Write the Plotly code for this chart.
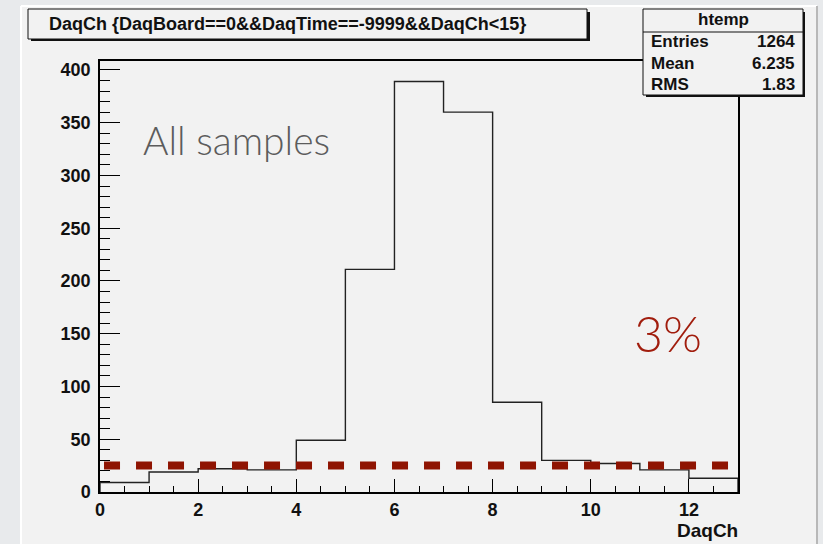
import plotly.graph_objects as go

# ---- data ----
channels = [0, 1, 2, 3, 4, 5, 6, 7, 8, 9, 10, 11, 12]
counts = [9, 19, 22, 21, 49, 211, 389, 360, 85, 30, 27, 21, 13]
threshold = 25
stats_labels = ["Entries", "Mean", "RMS"]
stats_values = ["1264", "6.235", "1.83"]
hist_name = "htemp"
title_text = "DaqCh {DaqBoard==0&&DaqTime==-9999&&DaqCh<15}"
x_title = "DaqCh"

W, H = 823, 544
def px(x):
    return x / W
def py(y):
    return 1 - y / H

edges = channels + [channels[-1] + 1]
hx = [edges[0]] + edges + [edges[-1]]
hy = [0] + counts + [counts[-1]] + [0]

fig = go.Figure()
fig.add_trace(go.Scatter(x=hx, y=hy, mode="lines", line_shape="hv",
                         line=dict(color="#222222", width=1.4),
                         hoverinfo="skip", showlegend=False))
fig.add_trace(go.Scatter(x=[0.082, 12.82], y=[threshold, threshold], mode="lines",
                         line=dict(color="#8f1402", width=8, dash="16px,16px"),
                         hoverinfo="skip", showlegend=False))

tickfont = dict(family="Liberation Sans", size=18, color="#111111", weight="bold")

fig.update_layout(
    template="none",
    width=W, height=H,
    margin=dict(l=0, r=0, t=0, b=0, pad=0),
    paper_bgcolor="#e8eaec",
    plot_bgcolor="#f2f2f2",
    showlegend=False,
    xaxis=dict(domain=[px(100), px(738)], range=[0, 13], showgrid=False, zeroline=False,
               automargin=False,
               showline=True, linecolor="black", linewidth=1.5, mirror=True,
               ticks="inside", ticklen=13, tickwidth=1.2, tickcolor="black", dtick=2, tick0=0,
               minor=dict(dtick=0.5, ticklen=6, ticks="inside", tickcolor="black", tickwidth=1.2),
               tickfont=tickfont, ticklabelstandoff=1, anchor="y"),
    yaxis=dict(domain=[py(492), py(61)], range=[0, 408.5], showgrid=False, zeroline=False,
               automargin=False,
               showline=True, linecolor="black", linewidth=1.5, mirror=True,
               ticks="inside", ticklen=20, tickwidth=1.2, tickcolor="black", dtick=50, tick0=0,
               minor=dict(dtick=10, ticklen=10, ticks="inside", tickcolor="black", tickwidth=1.2),
               tickfont=tickfont, ticklabelstandoff=4, anchor="x"),
)

shapes = []
shapes.append(dict(type="rect", xref="paper", yref="paper", x0=px(21), x1=px(817), y0=py(544), y1=py(6),
                   fillcolor="#f2f2f2", line=dict(width=0), layer="below"))
shapes.append(dict(type="line", xref="paper", yref="paper", x0=px(21), x1=px(21), y0=py(544), y1=py(6),
                   line=dict(color="#ffffff", width=2), layer="below"))
shapes.append(dict(type="line", xref="paper", yref="paper", x0=px(21), x1=px(817), y0=py(6), y1=py(6),
                   line=dict(color="#ffffff", width=2), layer="below"))
shapes.append(dict(type="line", xref="paper", yref="paper", x0=px(817), x1=px(817), y0=py(544), y1=py(6),
                   line=dict(color="#b8b8b8", width=2), layer="below"))
shapes.append(dict(type="rect", xref="paper", yref="paper", x0=px(31), x1=px(590), y0=py(41), y1=py(12),
                   fillcolor="#111111", line=dict(width=0), layer="above"))
shapes.append(dict(type="rect", xref="paper", yref="paper", x0=px(28), x1=px(587), y0=py(39), y1=py(9),
                   fillcolor="#f2f2f2", line=dict(color="#111111", width=1), layer="above"))
shapes.append(dict(type="rect", xref="paper", yref="paper", x0=px(646), x1=px(805), y0=py(97), y1=py(12),
                   fillcolor="#111111", line=dict(width=0), layer="above"))
shapes.append(dict(type="rect", xref="paper", yref="paper", x0=px(643), x1=px(803), y0=py(95), y1=py(9),
                   fillcolor="#f2f2f2", line=dict(color="#111111", width=1), layer="above"))
shapes.append(dict(type="line", xref="paper", yref="paper", x0=px(643), x1=px(803), y0=py(32), y1=py(32),
                   line=dict(color="#111111", width=1), layer="above"))
fig.update_layout(shapes=shapes)

ann = []
ann.append(dict(text=title_text, xref="paper", yref="paper", x=px(47), y=py(24), xanchor="left",
                yanchor="middle", showarrow=False,
                font=dict(family="Liberation Sans", size=18, color="#111111", weight="bold")))
ann.append(dict(text=hist_name, xref="paper", yref="paper", x=px(723), y=py(20), xanchor="center",
                yanchor="middle", showarrow=False,
                font=dict(family="Liberation Sans", size=17, color="#111111", weight="bold")))
for i, (lab, val) in enumerate(zip(stats_labels, stats_values)):
    yc = 42 + i * 21
    ann.append(dict(text=lab, xref="paper", yref="paper", x=px(649), y=py(yc), xanchor="left",
                    yanchor="middle", showarrow=False,
                    font=dict(family="Liberation Sans", size=17, color="#111111", weight="bold")))
    ann.append(dict(text=val, xref="paper", yref="paper", x=px(797), y=py(yc), xanchor="right",
                    yanchor="middle", showarrow=False,
                    font=dict(family="Liberation Sans", size=17, color="#111111", weight="bold")))
ann.append(dict(text=x_title, xref="paper", yref="paper", x=px(740), y=py(530), xanchor="right",
                yanchor="middle", showarrow=False,
                font=dict(family="Liberation Sans", size=19, color="#111111", weight="bold")))
ann.append(dict(text="All samples", xref="paper", yref="paper", x=px(141), y=py(140), xanchor="left",
                yanchor="middle", showarrow=False,
                font=dict(family="Lato", size=39, color="#5c5c5c", weight=300)))
ann.append(dict(text="3%", xref="paper", yref="paper", x=px(632), y=py(333), xanchor="left",
                yanchor="middle", showarrow=False,
                font=dict(family="Lato", size=50, color="#a11d0d", weight=300)))
fig.update_layout(annotations=ann)

fig.write_html("out.html")
